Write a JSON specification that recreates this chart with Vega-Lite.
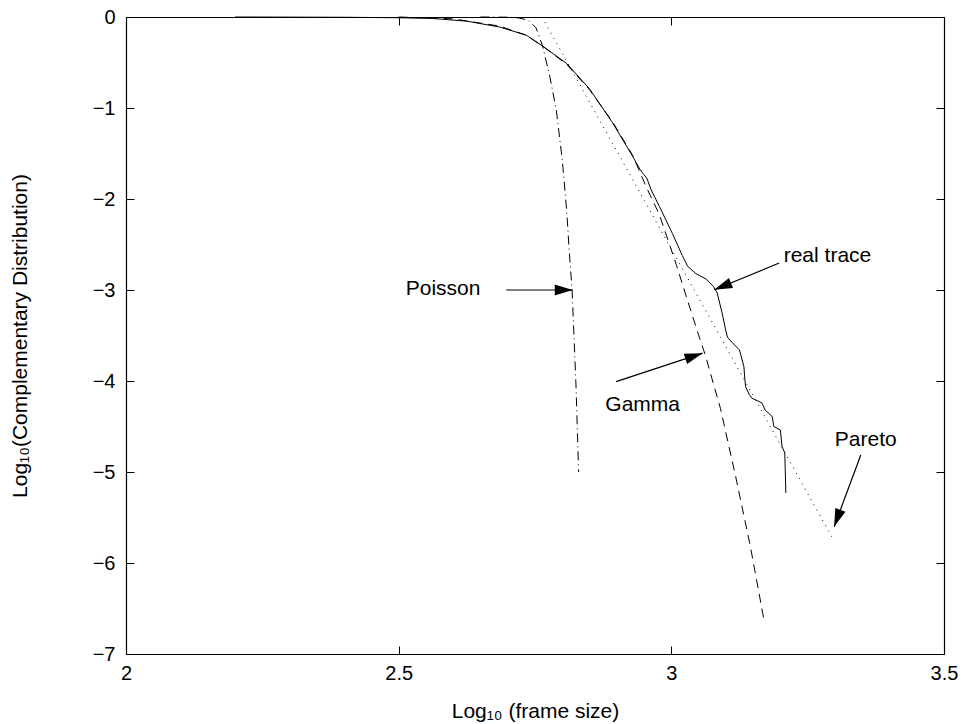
{
  "$schema": "https://vega.github.io/schema/vega-lite/v6.json",
  "autosize": {"type": "none"},
  "padding": {"left": 126, "top": 17, "right": 17, "bottom": 70},
  "width": 818,
  "height": 637,
  "background": "white",
  "config": {
    "view": {"stroke": null},
    "font": "Liberation Sans",
    "axis": {"grid": false, "domainColor": "black", "tickColor": "black", "labelColor": "black", "titleColor": "black", "labelFont": "Liberation Sans", "titleFont": "Liberation Sans", "labelFontSize": 20, "titleFontSize": 21, "titleFontWeight": "normal", "tickSize": -8, "domainWidth": 1.2, "tickWidth": 1, "labelFlush": false, "labelOverlap": false}
  },
  "datasets": {
    "curves": [
      {"series": "real trace", "x": 2.20, "y": 0},
      {"series": "real trace", "x": 2.40, "y": -0.003},
      {"series": "real trace", "x": 2.50, "y": -0.008},
      {"series": "real trace", "x": 2.562, "y": -0.016},
      {"series": "real trace", "x": 2.625, "y": -0.046},
      {"series": "real trace", "x": 2.685, "y": -0.11},
      {"series": "real trace", "x": 2.734, "y": -0.20},
      {"series": "real trace", "x": 2.764, "y": -0.32},
      {"series": "real trace", "x": 2.808, "y": -0.51},
      {"series": "real trace", "x": 2.850, "y": -0.79},
      {"series": "real trace", "x": 2.892, "y": -1.16},
      {"series": "real trace", "x": 2.929, "y": -1.53},
      {"series": "real trace", "x": 2.941, "y": -1.66},
      {"series": "real trace", "x": 2.948, "y": -1.72},
      {"series": "real trace", "x": 2.955, "y": -1.77},
      {"series": "real trace", "x": 2.963, "y": -1.90},
      {"series": "real trace", "x": 2.978, "y": -2.08},
      {"series": "real trace", "x": 3.002, "y": -2.38},
      {"series": "real trace", "x": 3.020, "y": -2.62},
      {"series": "real trace", "x": 3.030, "y": -2.74},
      {"series": "real trace", "x": 3.045, "y": -2.82},
      {"series": "real trace", "x": 3.064, "y": -2.88},
      {"series": "real trace", "x": 3.077, "y": -2.96},
      {"series": "real trace", "x": 3.084, "y": -3.03},
      {"series": "real trace", "x": 3.093, "y": -3.25},
      {"series": "real trace", "x": 3.100, "y": -3.45},
      {"series": "real trace", "x": 3.103, "y": -3.52},
      {"series": "real trace", "x": 3.112, "y": -3.58},
      {"series": "real trace", "x": 3.125, "y": -3.66},
      {"series": "real trace", "x": 3.133, "y": -3.84},
      {"series": "real trace", "x": 3.136, "y": -4.06},
      {"series": "real trace", "x": 3.143, "y": -4.15},
      {"series": "real trace", "x": 3.148, "y": -4.19},
      {"series": "real trace", "x": 3.166, "y": -4.24},
      {"series": "real trace", "x": 3.172, "y": -4.32},
      {"series": "real trace", "x": 3.185, "y": -4.39},
      {"series": "real trace", "x": 3.188, "y": -4.50},
      {"series": "real trace", "x": 3.200, "y": -4.54},
      {"series": "real trace", "x": 3.203, "y": -4.72},
      {"series": "real trace", "x": 3.208, "y": -4.79},
      {"series": "real trace", "x": 3.210, "y": -5.23},
      {"series": "Gamma", "x": 2.50, "y": 0},
      {"series": "Gamma", "x": 2.60, "y": -0.02},
      {"series": "Gamma", "x": 2.685, "y": -0.10},
      {"series": "Gamma", "x": 2.734, "y": -0.20},
      {"series": "Gamma", "x": 2.764, "y": -0.32},
      {"series": "Gamma", "x": 2.808, "y": -0.52},
      {"series": "Gamma", "x": 2.850, "y": -0.80},
      {"series": "Gamma", "x": 2.892, "y": -1.15},
      {"series": "Gamma", "x": 2.929, "y": -1.52},
      {"series": "Gamma", "x": 2.955, "y": -1.88},
      {"series": "Gamma", "x": 2.978, "y": -2.17},
      {"series": "Gamma", "x": 3.009, "y": -2.72},
      {"series": "Gamma", "x": 3.030, "y": -3.12},
      {"series": "Gamma", "x": 3.053, "y": -3.55},
      {"series": "Gamma", "x": 3.062, "y": -3.71},
      {"series": "Gamma", "x": 3.090, "y": -4.30},
      {"series": "Gamma", "x": 3.118, "y": -5.05},
      {"series": "Gamma", "x": 3.145, "y": -5.82},
      {"series": "Gamma", "x": 3.170, "y": -6.63},
      {"series": "Poisson", "x": 2.65, "y": 0},
      {"series": "Poisson", "x": 2.70, "y": -0.002},
      {"series": "Poisson", "x": 2.72, "y": -0.01},
      {"series": "Poisson", "x": 2.738, "y": -0.035},
      {"series": "Poisson", "x": 2.752, "y": -0.12},
      {"series": "Poisson", "x": 2.764, "y": -0.32},
      {"series": "Poisson", "x": 2.777, "y": -0.65},
      {"series": "Poisson", "x": 2.789, "y": -1.02},
      {"series": "Poisson", "x": 2.800, "y": -1.57},
      {"series": "Poisson", "x": 2.808, "y": -2.12},
      {"series": "Poisson", "x": 2.813, "y": -2.59},
      {"series": "Poisson", "x": 2.818, "y": -3.00},
      {"series": "Poisson", "x": 2.825, "y": -4.02},
      {"series": "Poisson", "x": 2.830, "y": -5.00},
      {"series": "Pareto", "x": 2.763, "y": 0},
      {"series": "Pareto", "x": 3.294, "y": -5.71}
    ],
    "notes": [
      {"label": "Poisson", "tx": 2.5815, "ty": -2.987, "x1": 2.6973, "y1": -3.0, "x2": 2.8192, "y2": -3.0},
      {"label": "real trace", "tx": 3.2863, "ty": -2.622, "x1": 3.1978, "y1": -2.704, "x2": 3.0788, "y2": -2.998},
      {"label": "Gamma", "tx": 2.9475, "ty": -4.26, "x1": 2.8987, "y1": -4.007, "x2": 3.0573, "y2": -3.694},
      {"label": "Pareto", "tx": 3.3566, "ty": -4.648, "x1": 3.3474, "y1": -4.813, "x2": 3.2985, "y2": -5.602}
    ]
  },
  "layer": [
    {
      "data": {"name": "curves"},
      "transform": [{"filter": "datum.series === 'real trace'"}],
      "mark": {"type": "line", "color": "black", "strokeWidth": 1},
      "encoding": {
        "x": {"field": "x", "type": "quantitative", "scale": {"domain": [2, 3.5], "nice": false, "zero": false},
          "axis": {"orient": "bottom", "values": [2, 2.5, 3, 3.5], "format": "~g", "title": "Log₁₀ (frame size)", "labelPadding": 17, "titlePadding": 17}},
        "y": {"field": "y", "type": "quantitative", "scale": {"domain": [-7, 0], "nice": false, "zero": false},
          "axis": {"orient": "left", "values": [0, -1, -2, -3, -4, -5, -6, -7], "format": "d", "title": "Log₁₀(Complementary Distribution)", "labelPadding": 19, "titlePadding": 62}},
        "order": {"field": "x", "type": "quantitative"}
      }
    },
    {
      "data": {"name": "curves"},
      "transform": [{"filter": "datum.series === 'Gamma'"}],
      "mark": {"type": "line", "color": "black", "strokeWidth": 1, "strokeDash": [9, 6]},
      "encoding": {
        "x": {"field": "x", "type": "quantitative", "axis": {"orient": "top", "values": [2, 2.5, 3, 3.5], "labels": false, "title": null}},
        "y": {"field": "y", "type": "quantitative", "axis": {"orient": "right", "values": [0, -1, -2, -3, -4, -5, -6, -7], "labels": false, "title": null}},
        "order": {"field": "x", "type": "quantitative"}
      }
    },
    {
      "data": {"name": "curves"},
      "transform": [{"filter": "datum.series === 'Poisson'"}],
      "mark": {"type": "line", "color": "black", "strokeWidth": 1, "strokeDash": [9, 4, 1, 4]},
      "encoding": {
        "x": {"field": "x", "type": "quantitative", "axis": null},
        "y": {"field": "y", "type": "quantitative", "axis": null},
        "order": {"field": "x", "type": "quantitative"}
      }
    },
    {
      "data": {"name": "curves"},
      "transform": [{"filter": "datum.series === 'Pareto'"}],
      "mark": {"type": "line", "color": "black", "strokeWidth": 1, "strokeDash": [1, 5]},
      "encoding": {
        "x": {"field": "x", "type": "quantitative", "axis": null},
        "y": {"field": "y", "type": "quantitative", "axis": null},
        "order": {"field": "x", "type": "quantitative"}
      }
    },
    {
      "data": {"name": "notes"},
      "mark": {"type": "rule", "color": "black", "strokeWidth": 1.2},
      "encoding": {
        "x": {"field": "x1", "type": "quantitative", "axis": null},
        "y": {"field": "y1", "type": "quantitative", "axis": null},
        "x2": {"field": "x2"},
        "y2": {"field": "y2"}
      }
    },
    {
      "data": {"name": "notes"},
      "mark": {"type": "text", "color": "black", "font": "Liberation Sans", "fontSize": 21, "align": "center", "baseline": "middle"},
      "encoding": {
        "x": {"field": "tx", "type": "quantitative", "axis": null},
        "y": {"field": "ty", "type": "quantitative", "axis": null},
        "text": {"field": "label"}
      }
    },
    {
      "data": {"name": "notes"},
      "transform": [{"filter": "datum.label === 'Poisson'"}],
      "mark": {"type": "point", "filled": true, "color": "black", "opacity": 1, "shape": "M 0 0 L -2 -0.6 L -2 0.6 Z", "size": 324, "angle": 0},
      "encoding": {"x": {"field": "x2", "type": "quantitative", "axis": null}, "y": {"field": "y2", "type": "quantitative", "axis": null}}
    },
    {
      "data": {"name": "notes"},
      "transform": [{"filter": "datum.label === 'real trace'"}],
      "mark": {"type": "point", "filled": true, "color": "black", "opacity": 1, "shape": "M 0 0 L -2 -0.6 L -2 0.6 Z", "size": 324, "angle": 157.7},
      "encoding": {"x": {"field": "x2", "type": "quantitative", "axis": null}, "y": {"field": "y2", "type": "quantitative", "axis": null}}
    },
    {
      "data": {"name": "notes"},
      "transform": [{"filter": "datum.label === 'Gamma'"}],
      "mark": {"type": "point", "filled": true, "color": "black", "opacity": 1, "shape": "M 0 0 L -2 -0.6 L -2 0.6 Z", "size": 324, "angle": 341.8},
      "encoding": {"x": {"field": "x2", "type": "quantitative", "axis": null}, "y": {"field": "y2", "type": "quantitative", "axis": null}}
    },
    {
      "data": {"name": "notes"},
      "transform": [{"filter": "datum.label === 'Pareto'"}],
      "mark": {"type": "point", "filled": true, "color": "black", "opacity": 1, "shape": "M 0 0 L -2 -0.6 L -2 0.6 Z", "size": 324, "angle": 110.4},
      "encoding": {"x": {"field": "x2", "type": "quantitative", "axis": null}, "y": {"field": "y2", "type": "quantitative", "axis": null}}
    }
  ],
  "resolve": {"axis": {"x": "independent", "y": "independent"}}
}
